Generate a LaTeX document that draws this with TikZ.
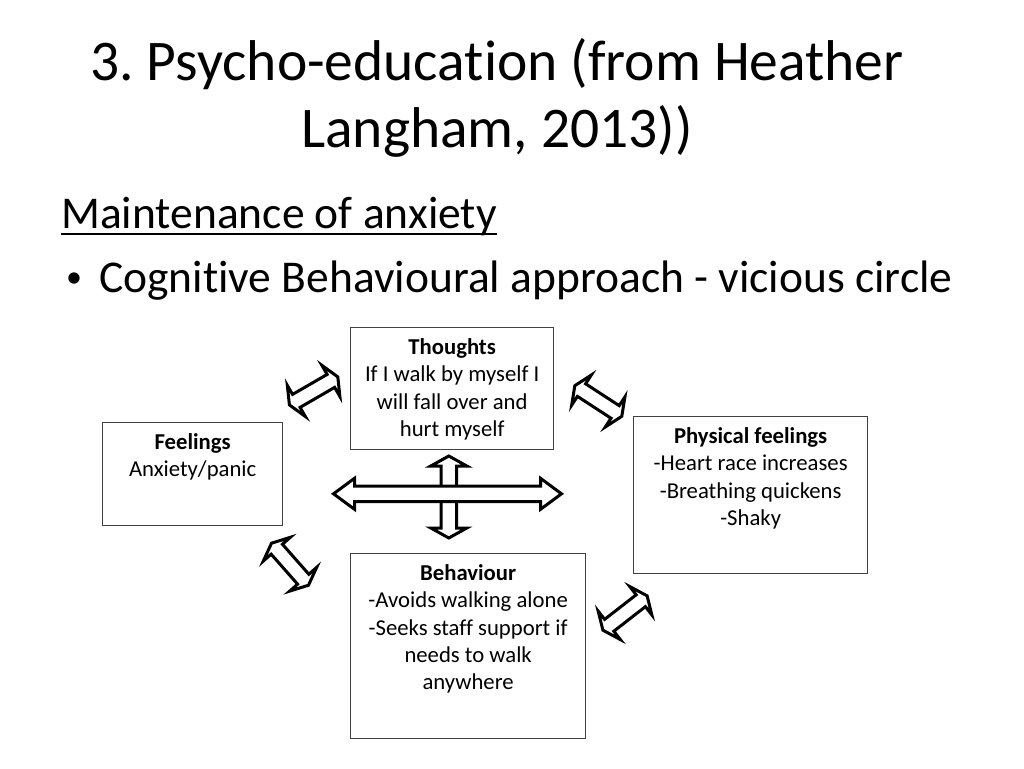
\documentclass[tikz,border=0pt]{standalone}
\usepackage{fontspec}
\setmainfont{Carlito}[Ligatures=NoCommon]
\usetikzlibrary{calc,positioning}
\frenchspacing

\definecolor{boxgray}{HTML}{404040}

\newcommand{\cycarrow}[5]{%
  \draw[blockarrow] (#1)
    -- ($(#1)!#3!(#2)!#4!90:(#2)$)
    -- ($(#1)!#3!(#2)!#5!90:(#2)$)
    -- ($(#2)!#3!(#1)!#5!-90:(#1)$)
    -- ($(#2)!#3!(#1)!#4!-90:(#1)$)
    -- (#2)
    -- ($(#2)!#3!(#1)!#4!90:(#1)$)
    -- ($(#2)!#3!(#1)!#5!90:(#1)$)
    -- ($(#1)!#3!(#2)!#5!-90:(#2)$)
    -- ($(#1)!#3!(#2)!#4!-90:(#2)$)
    -- cycle;}

\tikzset{
  box/.style={draw=boxgray, line width=1.3pt, inner sep=0pt, anchor=north west},
  boxtext/.style={align=flush center, text width=#1, inner sep=0pt, anchor=base,
    font=\fontsize{22.7}{27.3}\selectfont},
  bodytext/.style={inner sep=0pt, anchor=base west, font=\fontsize{45.5}{54}\selectfont},
  blockarrow/.style={draw=black, fill=white, line width=3pt, line join=miter}
}

\begin{document}
\begin{tikzpicture}[x=1pt,y=-1pt]
\useasboundingbox[fill=white] (0,0) rectangle (1024,768);

\node[align=flush center, text width=960pt, inner sep=0pt, anchor=base,
  font=\fontsize{57.5}{67}\selectfont] (title) at (497,80)
  {3. Psycho-education (from Heather\\Langham, 2013))};

\node[bodytext] (maint) at (61,228) {Maintenance of anxiety};
\draw[line width=2.2pt] ([yshift=-6pt]maint.base west) -- ([yshift=-6pt]maint.base east);
\node[bodytext, font=\fontsize{32}{40}\selectfont] (bullet) at (66,287) {•};
\node[bodytext] (approach) at (99,292) {Cognitive Behavioural approach - vicious circle};

% boxes
\node[box, minimum width=203pt, minimum height=122pt] (thoughts) at (350,327) {};
\node[box, minimum width=180pt, minimum height=103pt] (feelings) at (102,422) {};
\node[box, minimum width=234pt, minimum height=157pt] (physical) at (633,416) {};
\node[box, minimum width=235pt, minimum height=185pt] (behaviour) at (350,553) {};

\node[boxtext=200pt] (thoughtstxt) at ([yshift=-27.5pt]thoughts.north)
  {\textbf{Thoughts}\\If I walk by myself I\\will fall over and\\hurt myself};
\node[boxtext=176pt] (feelingstxt) at ([yshift=-27.5pt]feelings.north)
  {\textbf{Feelings}\\Anxiety/panic};
\node[boxtext=230pt] (physicaltxt) at ([yshift=-27.5pt]physical.north)
  {\textbf{Physical feelings}\\-Heart race increases\\-Breathing quickens\\-Shaky};
\node[boxtext=232pt] (behaviourtxt) at ([yshift=-27.5pt]behaviour.north)
  {\textbf{Behaviour}\\-Avoids walking alone\\-Seeks staff support if\\needs to walk\\anywhere};

% arrows between boxes
\coordinate (ft1) at (289.4,404.9);
\coordinate (ft2) at (337.8,376.9);
\coordinate (tp1) at (574.8,385.7);
\coordinate (tp2) at (621.8,416.3);
\coordinate (fb1) at (271.5,543.2);
\coordinate (fb2) at (308.5,585.2);
\coordinate (bp1) at (602.9,630.2);
\coordinate (bp2) at (647.1,595.8);
\cycarrow{ft1}{ft2}{8pt}{18pt}{7.5pt}
\cycarrow{tp1}{tp2}{8pt}{18pt}{7.5pt}
\cycarrow{fb1}{fb2}{8pt}{18pt}{7.5pt}
\cycarrow{bp1}{bp2}{8pt}{18pt}{7.5pt}

% centre cross
\coordinate (vtop) at (448.8,456);
\coordinate (vbot) at (448.8,538);
\coordinate (hleft) at (333.5,493.8);
\coordinate (hright) at (561.5,493.8);
\cycarrow{vtop}{vbot}{10pt}{18pt}{7.8pt}
\cycarrow{hleft}{hright}{21pt}{15.5pt}{7.8pt}
\end{tikzpicture}
\end{document}
